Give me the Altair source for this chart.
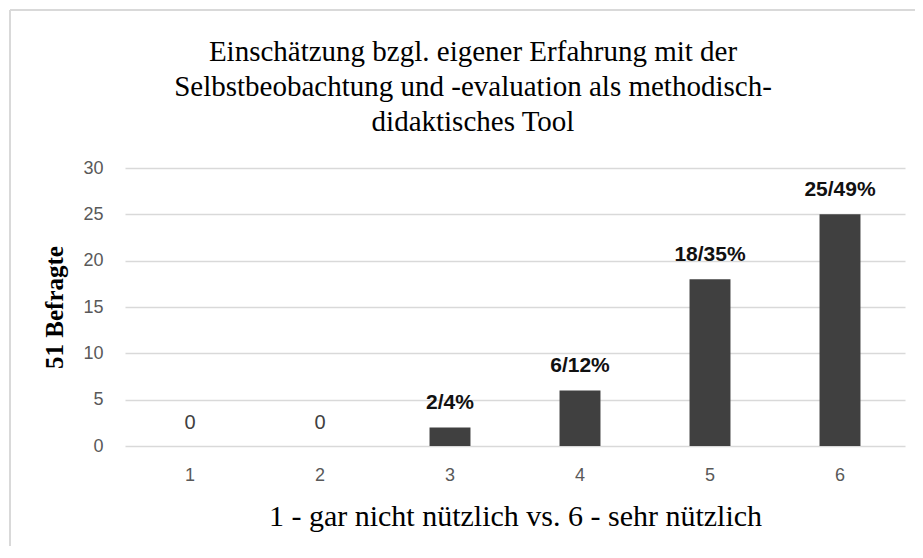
import altair as alt
import pandas as pd

ratings = ["1", "2", "3", "4", "5", "6"]
counts = [0, 0, 2, 6, 18, 25]
labels = ["0", "0", "2/4%", "6/12%", "18/35%", "25/49%"]

df = pd.DataFrame({"rating": ratings, "count": counts, "label": labels})

title_lines = [
    "Einschätzung bzgl. eigener Erfahrung mit der",
    "Selbstbeobachtung und -evaluation als methodisch-",
    "didaktisches Tool",
]

x = alt.X(
    "rating:N",
    sort=ratings,
    scale=alt.Scale(paddingInner=0.685, paddingOuter=0.3425),
    axis=alt.Axis(
        title="1 - gar nicht nützlich vs. 6 - sehr nützlich",
        titleFont="Liberation Serif",
        titleFontSize=30,
        titleFontWeight="normal",
        titleColor="#000000",
        titlePadding=17,
        labelAngle=0,
        labelFont="Liberation Sans",
        labelFontSize=18,
        labelColor="#595959",
        labelPadding=20,
        ticks=False,
        domain=False,
        grid=False,
    ),
)
y = alt.Y(
    "count:Q",
    scale=alt.Scale(domain=[0, 30]),
    axis=alt.Axis(
        title="51 Befragte",
        titleFont="Liberation Serif",
        titleFontSize=25,
        titleFontWeight="bold",
        titleColor="#000000",
        titlePadding=15,
        values=[0, 5, 10, 15, 20, 25, 30],
        labelFont="Liberation Sans",
        labelFontSize=18,
        labelColor="#595959",
        labelPadding=22,
        ticks=False,
        domain=False,
        grid=True,
        gridColor="#d9d9d9",
        gridWidth=1.5,
    ),
)

bars = alt.Chart(df).mark_bar(color="#404040").encode(x=x, y=y)

lab_bold = (
    alt.Chart(df)
    .transform_filter("datum.count > 0")
    .mark_text(font="Liberation Sans", fontSize=21, fontWeight="bold",
               color="#111111", baseline="alphabetic", dy=-18)
    .encode(x=alt.X("rating:N", sort=ratings), y="count:Q", text="label:N")
)
lab_zero = (
    alt.Chart(df)
    .transform_filter("datum.count == 0")
    .mark_text(font="Liberation Sans", fontSize=20, fontWeight="normal",
               color="#404040", baseline="alphabetic", dy=-17)
    .encode(x=alt.X("rating:N", sort=ratings), y="count:Q", text="label:N")
)

frame_left = alt.Chart(df).mark_rule(color="#d9d9d9", strokeWidth=1.5).encode(
    x=alt.value(-115), y=alt.value(-158), y2=alt.value(400)
)
frame_top = alt.Chart(df).mark_rule(color="#d9d9d9", strokeWidth=1.5).encode(
    x=alt.value(-115), x2=alt.value(800), y=alt.value(-158)
)

chart = (
    alt.layer(bars, lab_bold, lab_zero, frame_left, frame_top)
    .properties(
        width=780,
        height=278,
        title=alt.TitleParams(
            text=title_lines,
            font="Liberation Serif",
            fontSize=29,
            fontWeight="normal",
            color="#000000",
            lineHeight=35,
            anchor="middle",
            frame="group",
            baseline="bottom",
            dx=-42,
            dy=157,
            offset=0,
        ),
        autosize=alt.AutoSizeParams(type="none"),
        padding={"left": 117, "top": 160, "right": 10, "bottom": 100},
    )
    .configure_view(stroke=None)
)

chart.save("out.html", embed_options={"renderer": "svg", "actions": False})
